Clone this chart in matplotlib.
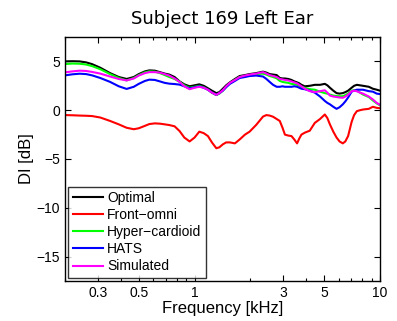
import matplotlib
matplotlib.use("Agg")
import matplotlib.pyplot as plt
from matplotlib.ticker import FixedLocator, LogLocator, NullFormatter

plt.rcParams['font.family'] = ['Liberation Sans', 'DejaVu Sans']

# Frequency grid (kHz) shared by all directivity curves
freq_khz = [0.2, 0.22, 0.24, 0.26, 0.28, 0.31, 0.35, 0.39, 0.43, 0.47,
            0.5, 0.54, 0.57, 0.61, 0.65, 0.69, 0.73, 0.78, 0.83, 0.88,
            0.94, 1.0, 1.06, 1.12, 1.18, 1.24, 1.31, 1.36, 1.42, 1.48,
            1.55, 1.65, 1.75, 1.87,
            1.98, 2.15, 2.34, 2.44, 2.54, 2.65, 2.77, 2.88, 2.98, 3.07,
            3.2, 3.33, 3.45, 3.57, 3.67, 3.77, 3.93, 4.18, 4.45, 4.75,
            5.04, 5.2, 5.37, 5.6, 5.83, 6.05, 6.3, 6.5, 6.73, 7.03,
            7.25, 7.5, 7.8, 8.1, 8.7, 9.15, 9.6, 10.0]

optimal = [5.0, 5.02, 5.0, 4.9, 4.72, 4.35, 3.8, 3.4, 3.2, 3.4,
           3.7, 3.98, 4.08, 4.05, 3.9, 3.75, 3.65, 3.4, 2.95, 2.65,
           2.45, 2.55, 2.65, 2.5, 2.25, 2.0, 1.75, 1.85, 2.2, 2.55,
           2.85, 3.2, 3.5, 3.6,
           3.7, 3.8, 3.95, 3.85, 3.7, 3.65, 3.6, 3.3, 3.25, 3.25,
           3.2, 3.1, 2.95, 2.85, 2.75, 2.6, 2.45, 2.5, 2.6, 2.6,
           2.7, 2.55, 2.3, 2.0, 1.75, 1.7, 1.75, 1.85, 2.0, 2.3,
           2.5, 2.6, 2.55, 2.5, 2.4, 2.2, 2.1, 2.0]

front_omni = [-0.5, -0.52, -0.55, -0.57, -0.6, -0.75, -1.1, -1.45, -1.8, -1.95,
              -1.85, -1.6, -1.42, -1.35, -1.38, -1.45, -1.52, -1.65, -2.14, -2.8,
              -3.2, -2.8, -2.2, -2.35, -2.65, -3.3, -3.9, -3.8, -3.5, -3.3,
              -3.3, -3.4, -3.0, -2.5,
              -2.2, -1.5, -0.65, -0.5, -0.55, -0.67, -0.9, -1.1, -1.8, -2.5,
              -2.6, -2.65, -3.0, -3.4, -2.9, -2.5, -2.3, -2.1, -1.3, -0.9,
              -0.44, -0.8, -1.46, -2.2, -2.8, -3.2, -3.4, -3.2, -2.65, -1.2,
              -0.5, -0.1, 0.0, 0.07, 0.14, 0.35, 0.24, 0.2]

hyper_cardioid = [4.73, 4.78, 4.76, 4.68, 4.52, 4.2, 3.7, 3.3, 3.05, 3.3,
                  3.6, 3.88, 3.98, 3.95, 3.8, 3.6, 3.4, 3.2, 2.9, 2.55,
                  2.3, 2.4, 2.5, 2.35, 2.1, 1.8, 1.55, 1.7, 2.0, 2.4,
                  2.75, 3.1, 3.4, 3.5,
                  3.6, 3.7, 3.75, 3.65, 3.5, 3.4, 3.27, 3.0, 2.9, 2.85,
                  2.8, 2.7, 2.65, 2.6, 2.5, 2.4, 2.3, 2.15, 2.1, 1.9,
                  1.75, 1.7, 1.6, 1.5, 1.45, 1.43, 1.43, 1.55, 1.7, 2.0,
                  2.05, 2.0, 1.8, 1.6, 1.35, 1.0, 0.7, 0.5]

hats = [3.57, 3.68, 3.74, 3.7, 3.57, 3.3, 2.9, 2.45, 2.18, 2.4,
        2.7, 3.0, 3.13, 3.1, 2.95, 2.8, 2.72, 2.68, 2.62, 2.45,
        2.24, 2.35, 2.45, 2.3, 2.1, 1.8, 1.57, 1.75, 2.0, 2.35,
        2.7, 3.0, 3.3, 3.4,
        3.5, 3.55, 3.45, 3.2, 2.9, 2.6, 2.4, 2.4, 2.45, 2.4,
        2.4, 2.4, 2.45, 2.4, 2.3, 2.2, 2.15, 2.0, 1.8, 1.4,
        0.95, 0.75, 0.6, 0.35, 0.14, 0.3, 0.6, 0.9, 1.3, 1.9,
        2.0, 2.1, 2.1, 2.1, 1.95, 1.9, 1.7, 1.65]

simulated = [3.88, 3.98, 4.05, 4.02, 3.92, 3.75, 3.45, 3.2, 3.05, 3.25,
             3.55, 3.8, 3.9, 3.9, 3.85, 3.7, 3.55, 3.25, 2.9, 2.45,
             2.15, 2.3, 2.4, 2.3, 2.1, 1.8, 1.57, 1.75, 2.05, 2.45,
             2.8, 3.1, 3.4, 3.55,
             3.65, 3.75, 3.9, 3.75, 3.6, 3.5, 3.4, 3.2, 3.15, 3.1,
             3.05, 2.95, 2.85, 2.75, 2.6, 2.45, 2.2, 1.95, 1.85, 1.95,
             2.04, 1.8, 1.5, 1.4, 1.35, 1.3, 1.27, 1.4, 1.6, 1.94,
             2.0, 1.94, 1.8, 1.7, 1.4, 1.1, 0.75, 0.55]

series = [
    ("Optimal", optimal, "#000000"),
    ("Front\u2212omni", front_omni, "#ff0000"),
    ("Hyper\u2212cardioid", hyper_cardioid, "#00ff00"),
    ("HATS", hats, "#0000ff"),
    ("Simulated", simulated, "#ff00ff"),
]

xticks = [0.3, 0.5, 1, 3, 5, 10]
xtick_labels = ["0.3", "0.5", "1", "3", "5", "10"]
yticks = [-15, -10, -5, 0, 5]
ytick_labels = ["\u221215", "\u221210", "\u22125", "0", "5"]

fig = plt.figure(figsize=(3.97, 3.21), dpi=100)
ax = fig.add_axes([65 / 397, 1 - 281 / 321, 315 / 397, 244 / 321])

for name, vals, color in series:
    ax.plot(freq_khz, vals, color=color, lw=1.5, label=name)

ax.set_xscale("log")
ax.set_xlim(0.2, 10)
ax.set_ylim(-17.5, 7.5)
ax.xaxis.set_major_locator(FixedLocator(xticks))
ax.set_xticklabels(xtick_labels)
ax.xaxis.set_minor_locator(LogLocator(base=10, subs=range(2, 10)))
ax.xaxis.set_minor_formatter(NullFormatter())
ax.set_yticks(yticks)
ax.set_yticklabels(ytick_labels)
ax.tick_params(which="both", direction="in", top=True, right=True,
               labelsize=10, width=0.8)
ax.tick_params(which="major", length=4)
ax.tick_params(which="minor", length=2.5)
for s in ax.spines.values():
    s.set_linewidth(1.0)

ax.set_xlabel("Frequency [kHz]", fontsize=12, labelpad=1)
ax.set_ylabel("DI [dB]", fontsize=12, labelpad=2)
ax.set_title("Subject 169 Left Ear", fontsize=13, pad=9,
             family=["DejaVu Sans"])

leg = ax.legend(loc="lower left", fontsize=10, frameon=True, fancybox=False,
                edgecolor="black", borderpad=0.3, labelspacing=0.22,
                handlelength=2.2, handletextpad=0.3, borderaxespad=0.25)
leg.get_frame().set_linewidth(1.0)

fig.savefig("out.png", dpi=100)
